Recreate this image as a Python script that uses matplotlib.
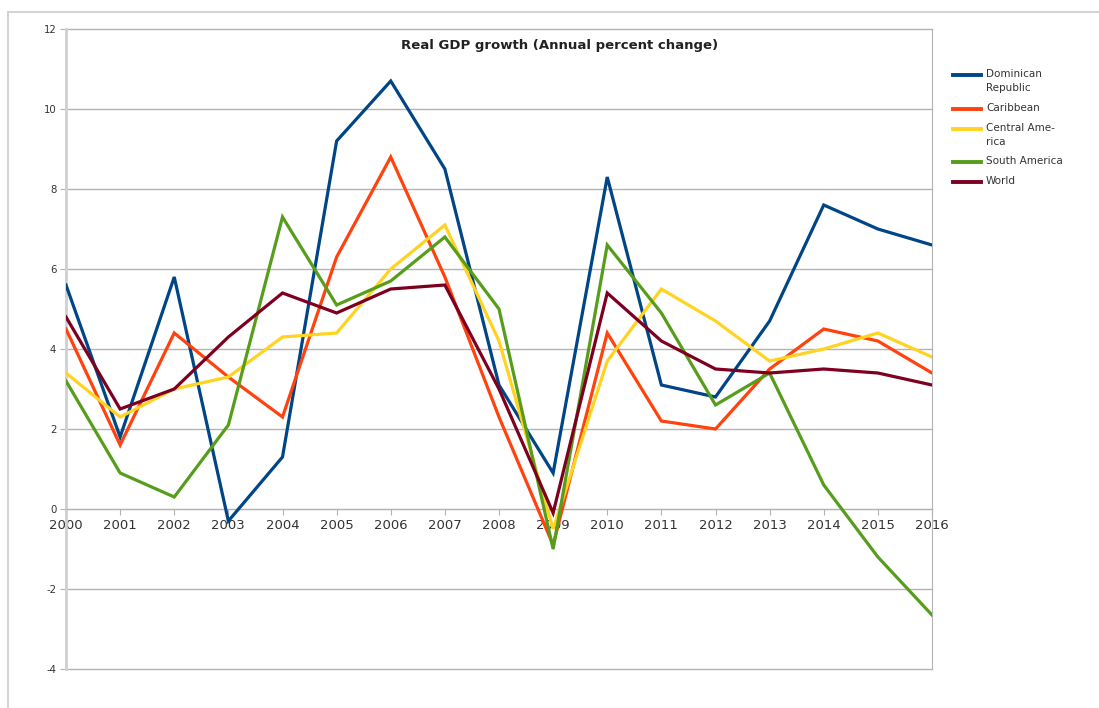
import numpy as np
import matplotlib.pyplot as plt
from matplotlib.lines import Line2D
from matplotlib.patches import Rectangle

plt.rcParams['axes.unicode_minus'] = False

years = list(range(2000, 2017))

dominican_republic = [5.6, 1.8, 5.8, -0.3, 1.3, 9.2, 10.7, 8.5, 3.1, 0.9, 8.3, 3.1, 2.8, 4.7, 7.6, 7.0, 6.6]
caribbean = [4.5, 1.6, 4.4, 3.3, 2.3, 6.3, 8.8, 5.8, 2.3, -0.9, 4.4, 2.2, 2.0, 3.5, 4.5, 4.2, 3.4]
central_america = [3.4, 2.3, 3.0, 3.3, 4.3, 4.4, 6.0, 7.1, 4.2, -0.5, 3.7, 5.5, 4.7, 3.7, 4.0, 4.4, 3.8]
south_america = [3.2, 0.9, 0.3, 2.1, 7.3, 5.1, 5.7, 6.8, 5.0, -1.0, 6.6, 4.9, 2.6, 3.4, 0.6, -1.2, -2.65]
world = [4.8, 2.5, 3.0, 4.3, 5.4, 4.9, 5.5, 5.6, 3.0, -0.1, 5.4, 4.2, 3.5, 3.4, 3.5, 3.4, 3.1]

labels = ['Dominican\nRepublic', 'Caribbean', 'Central Ame-\nrica', 'South America', 'World']
series = [dominican_republic, caribbean, central_america, south_america, world]
colors = ['#004586', '#ff420e', '#ffd320', '#579d1c', '#7e0021']

fig = plt.figure(figsize=(10.99, 7.08), dpi=100)
ax = fig.add_axes([66/1099, 1 - 669/708, (932 - 66)/1099, (669 - 29)/708])

# light frame around the whole chart
fig.patches.append(Rectangle((8/1099, -0.1), 1.2, 1 - 12/708 + 0.1, transform=fig.transFigure,
                             fill=False, edgecolor='#d4d4d4', lw=1.5))

for vals, c in zip(series, colors):
    ax.plot(years, vals, color=c, lw=2.3, solid_joinstyle='miter', zorder=3)

ax.set_xlim(2000, 2016)
ax.set_ylim(-4, 12)
ax.set_yticks(np.arange(-4, 13, 2))
ax.set_xticks(years)
ax.grid(axis='y', color='#b3b3b3', lw=1)
ax.set_axisbelow(True)
for gl in ax.get_ygridlines():
    gl.set_clip_on(False)

ax.spines['bottom'].set_position(('data', 0))
ax.spines['bottom'].set_color('#b3b3b3')
ax.spines['top'].set_visible(False)
ax.spines['right'].set_color('#b3b3b3')
ax.spines['left'].set_color('#d0d0d0')
ax.spines['left'].set_linewidth(2)
ax.tick_params(axis='x', colors='#b3b3b3', length=4, labelcolor='#333333', labelsize=9.5, pad=3)
ax.tick_params(axis='y', colors='#b3b3b3', length=4, labelcolor='#333333', labelsize=7.3, pad=3)

fig.text(560/1099, 1 - 45/708, 'Real GDP growth (Annual percent change)', ha='center', va='center',
         fontsize=9.5, fontweight='bold', color='#222222')

# legend on the right, handle aligned with first text line
legend_y = [75, 109, 129, 162, 182]
for lab, c, py in zip(labels, colors, legend_y):
    yf = 1 - py/708
    fig.lines.append(Line2D([953/1099, 981/1099], [yf, yf], transform=fig.transFigure, color=c, lw=2.8))
    fig.text(986/1099, yf + 6/708, lab, ha='left', va='top', fontsize=7.5, color='#333333',
             linespacing=1.45)

fig.savefig('out.png', dpi=100)
